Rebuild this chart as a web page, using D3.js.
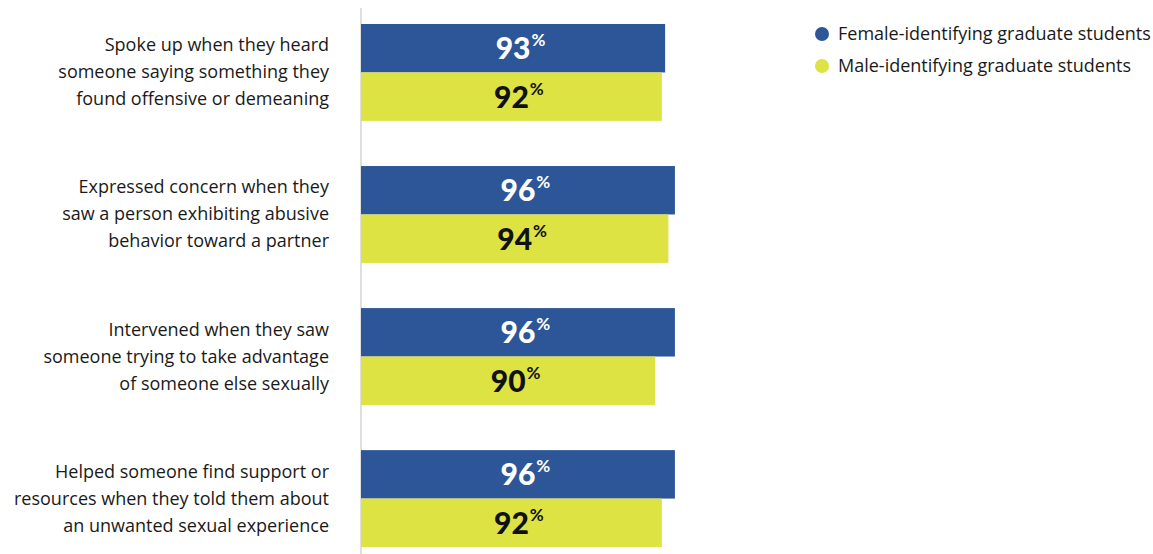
<!DOCTYPE html>
<html>
<head>
<meta charset="utf-8">
<script src="https://cdn.jsdelivr.net/npm/d3@7"></script>
<style>
  html, body { margin: 0; padding: 0; background: #fff; }
  svg { display: block; }
</style>
</head>
<body>
<svg id="chart" width="1153" height="554"></svg>
<script>
// Survey items (each label split into its display lines)
const categories = [
  ["Spoke up when they heard", "someone saying something they", "found offensive or demeaning"],
  ["Expressed concern when they", "saw a person exhibiting abusive", "behavior toward a partner"],
  ["Intervened when they saw", "someone trying to take advantage", "of someone else sexually"],
  ["Helped someone find support or", "resources when they told them about", "an unwanted sexual experience"]
];
const seriesNames = ["Female-identifying graduate students", "Male-identifying graduate students"];
const femaleValues = [93, 96, 96, 96];
const maleValues = [92, 94, 90, 92];
const seriesColors = ["#2c5697", "#dce343"];
const labelColors = ["#ffffff", "#111111"];

const svg = d3.select("#chart");
const font = "'Open Sans', 'Noto Sans', sans-serif";
const numFont = "'Lato', 'Roboto', sans-serif";

const x = d3.scaleLinear().domain([0, 100]).range([361, 688]);
const y = d3.scaleBand().domain(d3.range(categories.length)).range([24, 547]).paddingInner(0.318).paddingOuter(0);
const sub = d3.scaleBand().domain([0, 1]).range([0, y.bandwidth()]).padding(0);

// vertical baseline
svg.append("line")
  .attr("x1", x(0)).attr("x2", x(0))
  .attr("y1", 8).attr("y2", 554)
  .attr("stroke", "#d4d4d4").attr("stroke-width", 1.5);

const rows = categories.map((c, i) => ({ lines: c, vals: [femaleValues[i], maleValues[i]], i }));

const g = svg.selectAll("g.row").data(rows).join("g")
  .attr("class", "row")
  .attr("transform", d => `translate(0,${y(d.i)})`);

// category labels
g.append("text")
  .attr("text-anchor", "end")
  .attr("font-family", font)
  .attr("font-size", 18)
  .attr("fill", "#1a1a1a")
  .selectAll("tspan").data(d => d.lines).join("tspan")
  .attr("x", 329)
  .attr("y", (l, k) => y.bandwidth() / 2 + (k - 1) * 27 + 6)
  .text(l => l);

// bars and value labels
const bars = g.selectAll("g.bar").data(d => d.vals.map((v, s) => ({ v, s }))).join("g").attr("class", "bar");

bars.append("rect")
  .attr("x", x(0))
  .attr("y", d => sub(d.s))
  .attr("width", d => x(d.v) - x(0))
  .attr("height", sub.bandwidth())
  .attr("fill", d => seriesColors[d.s]);

// number centred on the bar, percent sign raised just after it
bars.each(function (d) {
  const b = d3.select(this);
  const cx = (x(0) + x(d.v)) / 2;
  const cy = sub(d.s) + sub.bandwidth() / 2 + 11;
  const num = b.append("text")
    .attr("x", cx).attr("y", cy)
    .attr("text-anchor", "middle")
    .attr("font-family", numFont)
    .attr("font-weight", 900)
    .attr("font-size", 30)
    .attr("fill", labelColors[d.s])
    .text(d.v);
  const w = num.node().getComputedTextLength();
  b.append("text")
    .attr("x", cx + w / 2 + 1).attr("y", cy - 13)
    .attr("font-family", numFont)
    .attr("font-weight", 700)
    .attr("font-size", 17)
    .attr("fill", labelColors[d.s])
    .text("%");
});

// legend
const lg = svg.selectAll("g.legend").data(seriesNames).join("g")
  .attr("class", "legend")
  .attr("transform", (d, i) => `translate(822,${34 + i * 32})`);
lg.append("circle").attr("r", 7).attr("fill", (d, i) => seriesColors[i]);
lg.append("text")
  .attr("x", 16).attr("y", 6)
  .attr("font-family", font)
  .attr("font-size", 18)
  .attr("fill", "#1a1a1a")
  .text(d => d);
</script>
</body>
</html>
